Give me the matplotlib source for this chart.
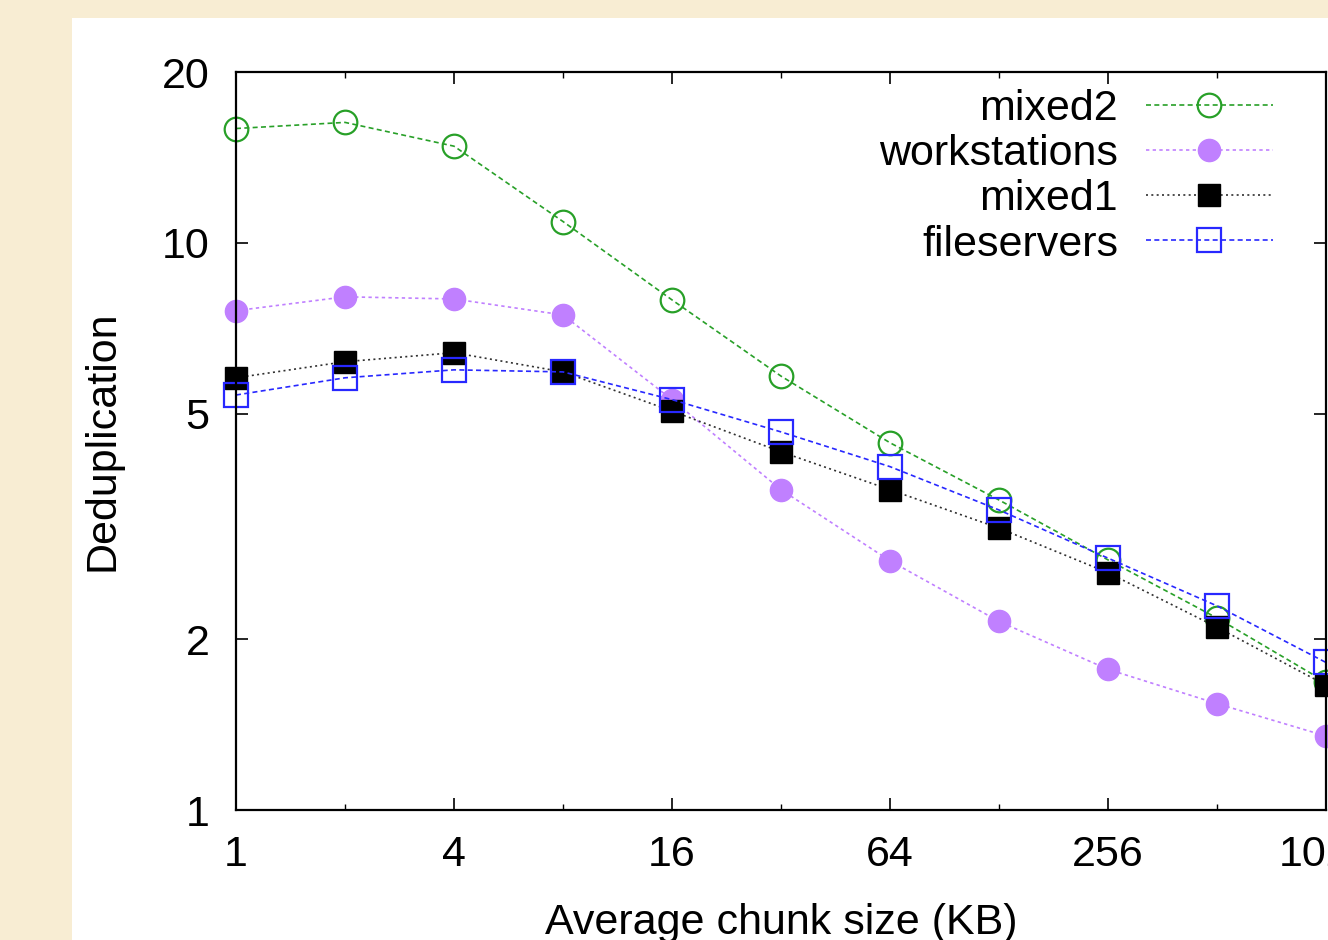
import matplotlib
matplotlib.use("Agg")
import matplotlib.pyplot as plt
from matplotlib.patches import Rectangle
from matplotlib.ticker import FixedLocator, FixedFormatter, NullLocator, NullFormatter

plt.rcParams['font.family'] = ['Liberation Sans', 'DejaVu Sans']

chunk_kb = [1, 2, 4, 8, 16, 32, 64, 128, 256, 512, 1024]
mixed2 = [15.9, 16.3, 14.8, 10.9, 7.93, 5.82, 4.44, 3.52, 2.76, 2.18, 1.68]
workstations = [7.59, 8.03, 7.96, 7.46, 5.29, 3.67, 2.75, 2.15, 1.77, 1.54, 1.35]
mixed1 = [5.78, 6.17, 6.40, 5.92, 5.05, 4.28, 3.67, 3.14, 2.62, 2.10, 1.66]
fileservers = [5.39, 5.78, 5.97, 5.92, 5.29, 4.64, 4.03, 3.38, 2.78, 2.29, 1.82]

x_major = [1, 4, 16, 64, 256, 1024]
x_major_labels = ['1', '4', '16', '64', '256', '1024']
x_minor = [2, 8, 32, 128, 512]
y_ticks = [1, 2, 5, 10, 20]
y_labels = ['1', '2', '5', '10', '20']

W, H = 1328, 940
fig = plt.figure(figsize=(W / 100, H / 100), dpi=100)
fig.patch.set_facecolor('#f8edd3')
fig.patches.append(Rectangle((72 / W, 0), 1 - 72 / W, 1 - 18 / H, transform=fig.transFigure,
                             facecolor='white', edgecolor='none', zorder=-10))

ax = fig.add_axes([236 / W, 1 - 810 / H, (1326 - 236) / W, (810 - 72) / H])
ax.set_facecolor('white')
ax.set_xscale('log', base=2)
ax.set_yscale('log')
ax.set_xlim(1, 1024)
ax.set_ylim(1, 20)

lw = 1.2
ms = 17
ax.plot(chunk_kb, mixed2, color='#28a028', ls=(0, (3, 2)), lw=lw, marker='o', ms=ms,
        mfc='none', mec='#28a028', mew=1.6, label='mixed2', clip_on=False)
ax.plot(chunk_kb, workstations, color='#c080ff', ls=(0, (2, 2)), lw=lw, marker='o', ms=ms - 1,
        mfc='#c080ff', mec='#c080ff', label='workstations', clip_on=False)
ax.plot(chunk_kb, mixed1, color='#303030', ls=(0, (1.2, 2)), lw=lw, marker='s', ms=ms - 1,
        mfc='black', mec='black', label='mixed1', clip_on=False)
ax.plot(chunk_kb, fileservers, color='#2828ff', ls=(0, (3, 2)), lw=lw, marker='s', ms=ms,
        mfc='none', mec='#2828ff', mew=1.6, label='fileservers', clip_on=False)

ax.xaxis.set_major_locator(FixedLocator(x_major))
ax.xaxis.set_major_formatter(FixedFormatter(x_major_labels))
ax.xaxis.set_minor_locator(FixedLocator(x_minor))
ax.xaxis.set_minor_formatter(NullFormatter())
ax.yaxis.set_major_locator(FixedLocator(y_ticks))
ax.yaxis.set_major_formatter(FixedFormatter(y_labels))
ax.yaxis.set_minor_locator(NullLocator())

ax.tick_params(axis='both', which='major', direction='in', length=8.5, width=1.2,
               top=True, right=True, labelsize=31, pad=18, colors='black')
ax.tick_params(axis='x', which='minor', direction='in', length=4.5, width=1.0, top=True)
ax.tick_params(axis='y', which='major', pad=19)
for s in ax.spines.values():
    s.set_linewidth(1.6)
    s.set_color('black')

ax.set_xlabel('Average chunk size (KB)', fontsize=31, labelpad=20)
ax.set_ylabel('Deduplication', fontsize=31, labelpad=28)

leg = ax.legend(loc='upper right', bbox_to_anchor=(1273 / W, 1 - 89 / H),
                bbox_transform=fig.transFigure, frameon=False, markerfirst=False,
                fontsize=31, handlelength=2.95, handletextpad=0.65, labelspacing=0.12,
                borderpad=0, borderaxespad=0)

fig.savefig('out.png', dpi=100, facecolor=fig.get_facecolor())
